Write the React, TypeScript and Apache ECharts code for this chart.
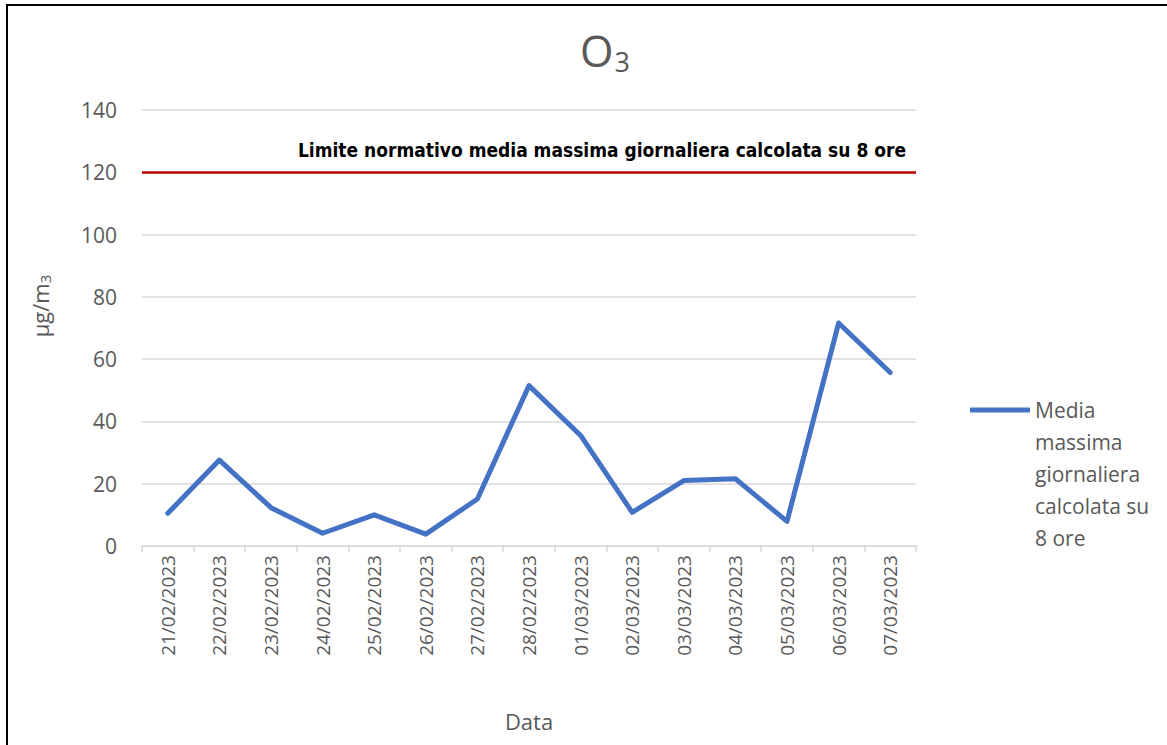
import React, { useEffect, useRef } from "react";
import * as echarts from "echarts";

const categories = [
  "21/02/2023", "22/02/2023", "23/02/2023", "24/02/2023", "25/02/2023",
  "26/02/2023", "27/02/2023", "28/02/2023", "01/03/2023", "02/03/2023",
  "03/03/2023", "04/03/2023", "05/03/2023", "06/03/2023", "07/03/2023",
];
const mediaValues = [10.5, 27.6, 12.3, 4.1, 10.0, 3.8, 15.1, 51.5, 35.5, 10.8, 21.0, 21.6, 7.9, 71.6, 55.7];
const limitValue = 120;
const yTicks = { min: 0, max: 140, interval: 20 };
const seriesName = "Media\nmassima\ngiornaliera\ncalcolata su\n8 ore";
const limitLabel = "Limite normativo media massima giornaliera calcolata su 8 ore";

const FONT = "'Open Sans', 'Noto Sans', sans-serif";
const GRAY = "#595959";
// legend icon: a 5px-thick bar at the first text line, with invisible anchors fixing the bbox
const LEGEND_ICON =
  "path://M0,0 h0.01 v0.01 h-0.01 Z M0,13.5 H60 V18.5 H0 Z M59.99,159.99 h0.01 v0.01 h-0.01 Z";

export default function App() {
  const ref = useRef<HTMLDivElement>(null);
  useEffect(() => {
    if (!ref.current) return;
    const chart = echarts.init(ref.current, null, { renderer: "svg" });
    chart.setOption({
      animation: false,
      backgroundColor: "#ffffff",
      textStyle: { fontFamily: FONT, color: GRAY },
      title: {
        text: "{o|O}{s|3}",
        left: 600,
        top: 18,
        textAlign: "center",
        textStyle: {
          rich: {
            o: { fontSize: 43, color: GRAY, fontFamily: FONT, fontWeight: "normal", lineHeight: 54 },
            s: { fontSize: 27, color: GRAY, fontFamily: FONT, fontWeight: "normal", padding: [22, 0, 0, 1], lineHeight: 54 },
          },
        },
      },
      grid: { left: 142, right: 251, top: 110, bottom: 199, containLabel: false },
      legend: {
        left: 970,
        top: 394,
        padding: 0,
        orient: "vertical",
        itemWidth: 60,
        itemHeight: 160,
        symbolKeepAspect: false,
        data: [{ name: seriesName, icon: LEGEND_ICON }],
        textStyle: {
          fontFamily: FONT,
          fontSize: 21,
          color: GRAY,
          lineHeight: 32,
        },
      },
      xAxis: {
        type: "category",
        data: categories,
        boundaryGap: true,
        name: "Data",
        nameLocation: "middle",
        nameGap: 164,
        nameTextStyle: { fontSize: 22, color: GRAY, fontFamily: FONT },
        axisLine: { show: true, lineStyle: { color: "#d9d9d9", width: 1.5 } },
        axisTick: { show: true, length: 6, lineStyle: { color: "#d9d9d9", width: 1.5 } },
        axisLabel: { rotate: 90, fontSize: 19, color: GRAY, margin: 9, fontFamily: FONT },
        splitLine: { show: false },
      },
      yAxis: {
        type: "value",
        min: yTicks.min,
        max: yTicks.max,
        interval: yTicks.interval,
        name: "{a|µg/m}{b|3}",
        nameLocation: "middle",
        nameRotate: 90,
        nameGap: 90,
        nameTextStyle: {
          padding: [0, 0, 0, 44],
          rich: {
            a: { fontSize: 22, color: GRAY, fontFamily: FONT },
            b: { fontSize: 15, color: GRAY, fontFamily: FONT, padding: [10, 0, 0, 0] },
          },
        },
        axisLine: { show: false },
        axisTick: { show: false },
        axisLabel: { fontSize: 21, color: GRAY, margin: 25, fontFamily: FONT },
        splitLine: { show: true, lineStyle: { color: "#d9d9d9", width: 1.5 } },
      },
      series: [
        {
          name: seriesName,
          type: "line",
          data: mediaValues,
          symbol: "none",
          lineStyle: { color: "#4472c4", width: 5, cap: "round", join: "round" },
          itemStyle: { color: "#4472c4" },
          markLine: {
            silent: true,
            symbol: ["none", "none"],
            lineStyle: { color: "#c00000", width: 2.5, type: "solid" },
            label: {
              show: true,
              position: "insideEndTop",
              formatter: limitLabel,
              fontFamily: "'Liberation Sans Narrow', 'DejaVu Sans Condensed', sans-serif",
              fontWeight: "bold",
              fontSize: 19,
              color: "#000000",
              distance: [10, 13],
            },
            data: [{ yAxis: limitValue }],
          },
        },
      ],
    });
    return () => chart.dispose();
  }, []);
  return (
    <div style={{ position: "fixed", left: 0, top: 0, width: 1167, height: 745, background: "#fff" }}>
      <div ref={ref} style={{ position: "absolute", left: 0, top: 0, width: 1167, height: 745 }} />
      <div
        style={{
          position: "absolute",
          left: 6,
          top: 4,
          width: 1167 - 6,
          height: 745 - 4,
          borderTop: "2px solid #000",
          borderLeft: "2px solid #000",
          boxSizing: "border-box",
          pointerEvents: "none",
        }}
      />
    </div>
  );
}
